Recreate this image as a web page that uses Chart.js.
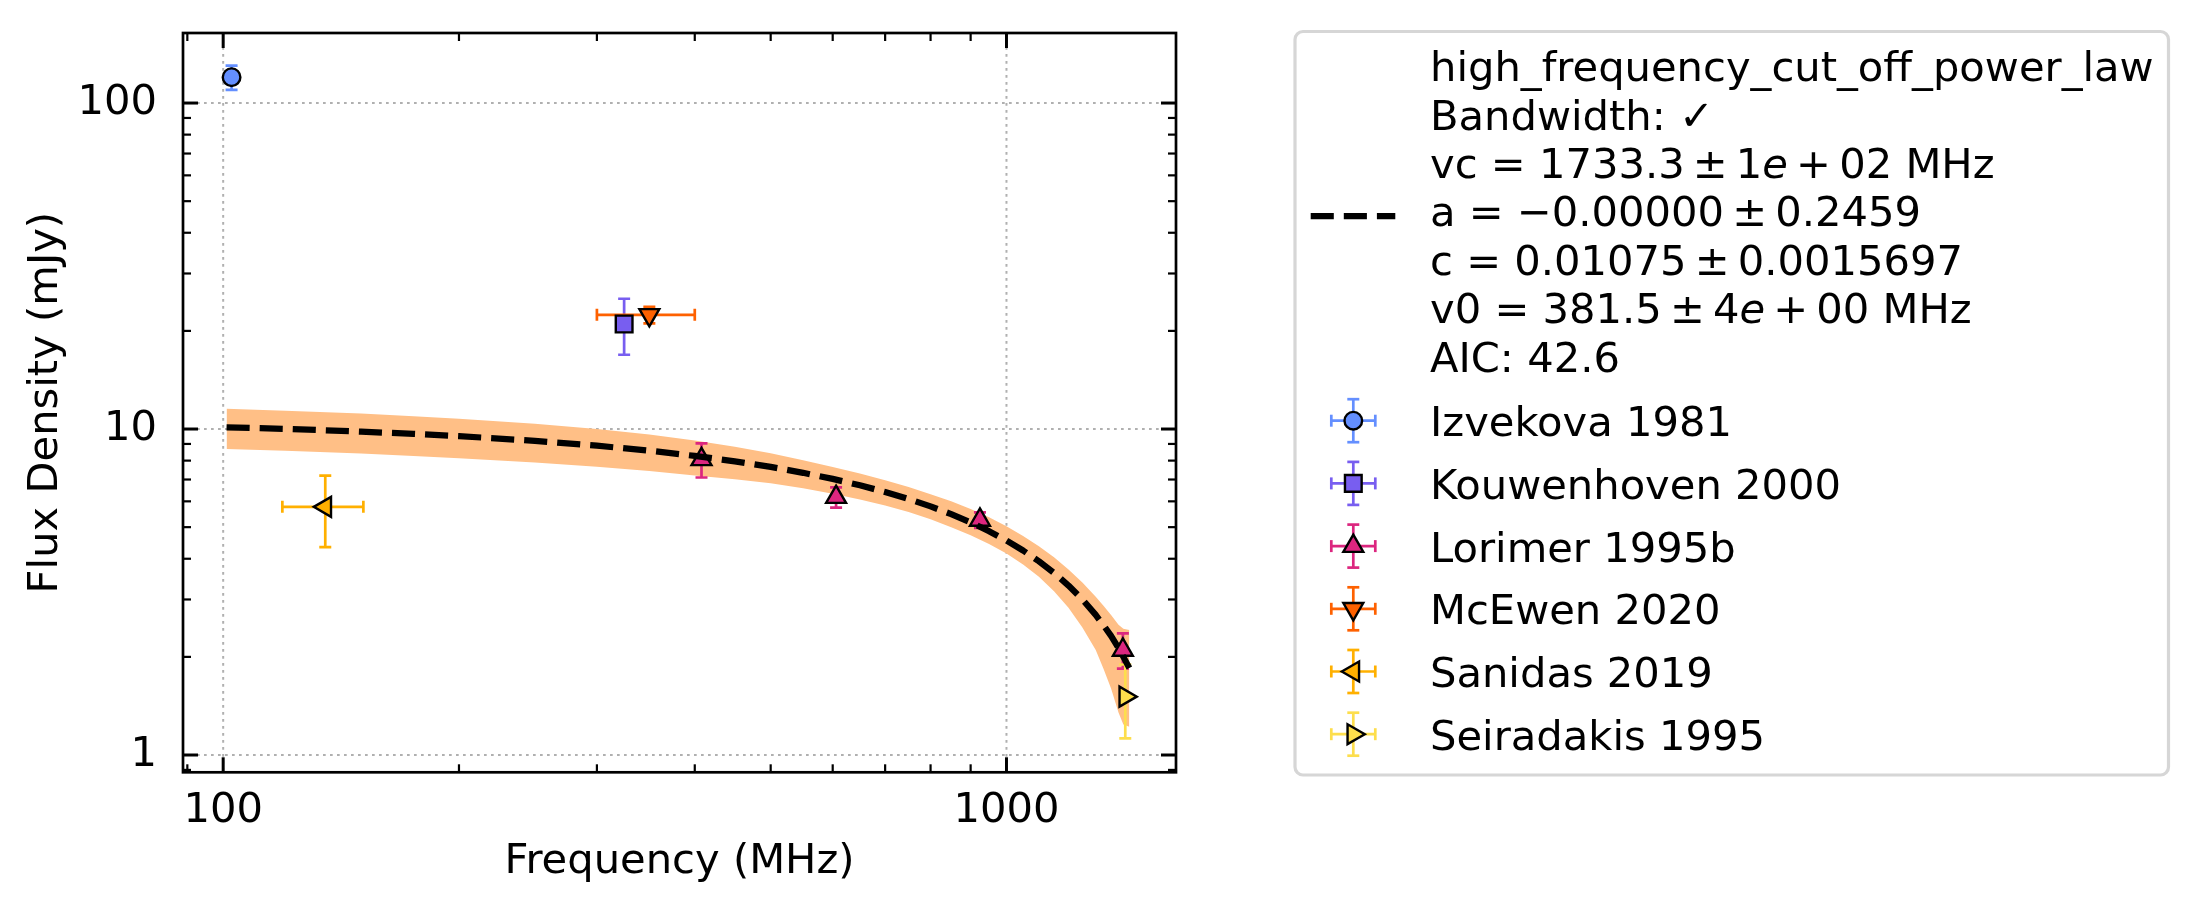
<!DOCTYPE html>
<html>
<head>
<meta charset="utf-8">
<script src="https://cdn.jsdelivr.net/npm/chart.js@4.4.1/dist/chart.umd.min.js"></script>
<style>
html,body{margin:0;padding:0;background:#ffffff;}
canvas{display:block;}
</style>
</head>
<body>
<canvas id="c" width="2198" height="917"></canvas>
<script>
// ---------------- DATA ----------------
const seriesNames = ['Izvekova 1981', 'Kouwenhoven 2000', 'Lorimer 1995b', 'McEwen 2020', 'Sanidas 2019', 'Seiradakis 1995'];

const izvekovaFreq = [102.5];
const izvekovaFlux = [120];
const izvekovaFreqErr = [0];
const izvekovaFluxErr = [10.3];

const kouwenhovenFreq = [325];
const kouwenhovenFlux = [21.0];
const kouwenhovenFreqErr = [0];
const kouwenhovenFluxErr = [4.1];

const lorimerFreq = [408, 606, 925, 1408];
const lorimerFlux = [8.07, 6.18, 5.26, 2.10];
const lorimerFreqErr = [0, 0, 0, 0];
const lorimerFluxErr = [0.97, 0.44, 0.29, 0.26];

const mcewenFreq = [350];
const mcewenFlux = [22.4];
const mcewenFreqErr = [50];
const mcewenFluxErr = [1.3];

const sanidasFreq = [135];
const sanidasFlux = [5.77];
const sanidasFreqErr = [16];
const sanidasFluxErr = [1.43];

const seiradakisFreq = [1418];
const seiradakisFlux = [1.51];
const seiradakisFreqErr = [0];
const seiradakisFluxErr = [0.385];

// fitted model curve and its uncertainty band
const fitFreq  = [101, 120, 150, 175, 200, 250, 300, 350, 400, 450, 500, 550, 600, 650, 700, 750, 800, 850, 900, 950, 1000, 1050, 1100, 1150, 1200, 1250, 1300, 1330, 1360, 1390, 1410, 1435];
const fitFlux  = [10.12, 10.01, 9.82, 9.66, 9.51, 9.20, 8.89, 8.58, 8.27, 7.96, 7.65, 7.34, 7.03, 6.72, 6.41, 6.10, 5.79, 5.48, 5.17, 4.86, 4.55, 4.24, 3.93, 3.62, 3.31, 3.00, 2.69, 2.50, 2.32, 2.13, 2.00, 1.85];
const fitUpper = [11.53, 11.38, 11.15, 10.94, 10.75, 10.38, 10.00, 9.62, 9.22, 8.82, 8.42, 8.02, 7.65, 7.30, 6.96, 6.64, 6.31, 6.00, 5.68, 5.36, 5.03, 4.70, 4.37, 4.04, 3.71, 3.38, 3.06, 2.87, 2.69, 2.51, 2.44, 2.42];
const fitLower = [8.69, 8.58, 8.41, 8.26, 8.13, 7.89, 7.66, 7.43, 7.20, 7.01, 6.82, 6.58, 6.33, 6.08, 5.83, 5.56, 5.29, 5.00, 4.72, 4.44, 4.15, 3.84, 3.52, 3.18, 2.83, 2.46, 2.10, 1.84, 1.60, 1.35, 1.24, 1.22];

const fitLegendLines = [
  'high_frequency_cut_off_power_law',
  'Bandwidth: \u2713',
  'vc = 1733.3|\u00b1|1$e$|+|02 MHz',
  'a = \u22120.00000|\u00b1|0.2459',
  'c = 0.01075|\u00b1|0.0015697',
  'v0 = 381.5|\u00b1|4$e$|+|00 MHz',
  'AIC: 42.6'
];

const xTickValues = [100, 1000];
const yTickValues = [1, 10, 100];
const xMinorTicks = [90, 200, 300, 400, 500, 600, 700, 800, 900];
const yMinorTicks = [0.9, 2, 3, 4, 5, 6, 7, 8, 9, 20, 30, 40, 50, 60, 70, 80, 90];

// ---------------- STYLE ----------------
const FONT = '"DejaVu Sans"';
const FS = 41.67;
const seriesColors = ['#648FFF', '#785EF0', '#DC267F', '#FE6100', '#FFB000', '#FDDE4C'];
const markerStyles = ['circle', 'rect', 'triangle', 'triangle', 'triangle', 'triangle'];
const markerRotations = [0, 0, 0, 180, 270, 90];
const markerRadii = [8.8, 11.8, 11.5, 11.5, 11.5, 11.5];
const MARKER_EDGE = 2.4;
const ERR_LW = 2.7, CAP = 6;

const seriesFreq = [izvekovaFreq, kouwenhovenFreq, lorimerFreq, mcewenFreq, sanidasFreq, seiradakisFreq];
const seriesFlux = [izvekovaFlux, kouwenhovenFlux, lorimerFlux, mcewenFlux, sanidasFlux, seiradakisFlux];
const seriesFreqErr = [izvekovaFreqErr, kouwenhovenFreqErr, lorimerFreqErr, mcewenFreqErr, sanidasFreqErr, seiradakisFreqErr];
const seriesFluxErr = [izvekovaFluxErr, kouwenhovenFluxErr, lorimerFluxErr, mcewenFluxErr, sanidasFluxErr, seiradakisFluxErr];

const CHART_TOP = 33, CHART_BOTTOM = 772.3, CHART_LEFT = 183, CHART_RIGHT = 1176;
const W = 2198, H = 917;

// ---------------- DATASETS ----------------
const toXY = (xs, ys) => xs.map((x, i) => ({x: x, y: ys[i]}));

const datasets = [
  {
    label: 'band upper', data: toXY(fitFreq, fitUpper), showLine: true, fill: '+1',
    backgroundColor: '#FFBF86', borderColor: 'rgba(0,0,0,0)', borderWidth: 1,
    pointRadius: 0, tension: 0, order: 10
  },
  {
    label: 'band lower', data: toXY(fitFreq, fitLower), showLine: true, fill: false,
    borderColor: 'rgba(0,0,0,0)', borderWidth: 1,
    pointRadius: 0, tension: 0, order: 10
  },
  {
    label: 'fit', data: toXY(fitFreq, fitFlux), showLine: true, fill: false,
    borderColor: '#000000', borderWidth: 6.25, borderDash: [23.1, 10], borderCapStyle: 'butt', borderJoinStyle: 'round',
    pointRadius: 0, tension: 0, order: 1
  }
];
seriesNames.forEach((name, i) => {
  datasets.push({
    label: name,
    data: toXY(seriesFreq[i], seriesFlux[i]),
    errX: seriesFreqErr[i], errY: seriesFluxErr[i], errColor: seriesColors[i],
    showLine: false,
    pointStyle: markerStyles[i], pointRotation: markerRotations[i], pointRadius: markerRadii[i],
    pointBackgroundColor: seriesColors[i], pointBorderColor: '#000000', pointBorderWidth: MARKER_EDGE,
    pointHoverRadius: markerRadii[i],
    order: 5
  });
});

// ---------------- HELPERS ----------------
function line(ctx, x1, y1, x2, y2) { ctx.beginPath(); ctx.moveTo(x1, y1); ctx.lineTo(x2, y2); ctx.stroke(); }

function drawMarker(ctx, style, rot, r, x, y, fill) {
  ctx.save();
  ctx.beginPath();
  if (style === 'circle') { ctx.arc(x, y, r, 0, Math.PI * 2); }
  else if (style === 'rect') { const s = r * Math.SQRT1_2; ctx.rect(x - s, y - s, 2 * s, 2 * s); }
  else {
    let a = rot * Math.PI / 180;
    for (let k = 0; k < 3; k++) {
      const px = x + Math.sin(a) * r, py = y - Math.cos(a) * r;
      if (k) ctx.lineTo(px, py); else ctx.moveTo(px, py);
      a += 2 * Math.PI / 3;
    }
    ctx.closePath();
  }
  ctx.fillStyle = fill; ctx.fill();
  ctx.lineWidth = MARKER_EDGE; ctx.strokeStyle = '#000'; ctx.stroke();
  ctx.restore();
}

function drawErrCross(ctx, color, cx, cy, x1, x2, y1, y2) {
  ctx.save();
  ctx.strokeStyle = color; ctx.lineWidth = ERR_LW; ctx.lineCap = 'butt';
  if (y1 !== y2) { line(ctx, cx, y1, cx, y2); line(ctx, cx - CAP, y1, cx + CAP, y1); line(ctx, cx - CAP, y2, cx + CAP, y2); }
  if (x1 !== x2) { line(ctx, x1, cy, x2, cy); line(ctx, x1, cy - CAP, x1, cy + CAP); line(ctx, x2, cy - CAP, x2, cy + CAP); }
  ctx.restore();
}

function drawRich(ctx, text, x, y) {
  const parts = text.split(/(\||\$[^$]*\$)/).filter(p => p !== '');
  let cx = x;
  for (const p of parts) {
    if (p === '|') { cx += 0.195 * FS; continue; }
    let t = p, italic = false;
    if (p[0] === '$') { t = p.slice(1, -1); italic = true; }
    ctx.font = (italic ? 'italic ' : '') + FS + 'px ' + FONT;
    ctx.fillText(t, cx, y);
    cx += ctx.measureText(t).width;
  }
}

// ---------------- PLUGINS ----------------
let errDrawn = false;
const decor = {
  id: 'decor',
  beforeDraw() { errDrawn = false; },
  beforeDatasetsDraw(chart) {
    const {ctx, chartArea: a, scales: {x, y}} = chart;
    ctx.save();
    ctx.strokeStyle = '#b0b0b0'; ctx.lineWidth = 2; ctx.setLineDash([2.7, 4.3]);
    xTickValues.forEach(v => { const px = x.getPixelForValue(v); line(ctx, px, a.top, px, a.bottom); });
    yTickValues.forEach(v => { const py = y.getPixelForValue(v); line(ctx, a.left, py, a.right, py); });
    ctx.restore();
  },
  beforeDatasetDraw(chart, args) {
    const ds = chart.data.datasets[args.index];
    if (!ds.errX || errDrawn) return;
    errDrawn = true;
    const {ctx, scales: {x, y}} = chart;
    ctx.save();
    ctx.beginPath(); ctx.rect(chart.chartArea.left, chart.chartArea.top, chart.chartArea.right - chart.chartArea.left, chart.chartArea.bottom - chart.chartArea.top); ctx.clip();
    chart.data.datasets.forEach(d => {
      if (!d.errX) return;
      d.data.forEach((p, i) => {
        const cx = x.getPixelForValue(p.x), cy = y.getPixelForValue(p.y);
        const ex = d.errX[i], ey = d.errY[i];
        const x1 = ex > 0 ? x.getPixelForValue(p.x - ex) : cx, x2 = ex > 0 ? x.getPixelForValue(p.x + ex) : cx;
        const y1 = ey > 0 ? y.getPixelForValue(p.y + ey) : cy, y2 = ey > 0 ? y.getPixelForValue(p.y - ey) : cy;
        drawErrCross(ctx, d.errColor, cx, cy, x1, x2, y1, y2);
      });
    });
    ctx.restore();
  },
  afterDatasetsDraw(chart) {
    const {ctx, chartArea: a, scales: {x, y}} = chart;
    ctx.save();
    ctx.strokeStyle = '#000'; ctx.lineCap = 'butt';
    // major ticks
    ctx.lineWidth = 3;
    xTickValues.forEach(v => { const px = x.getPixelForValue(v); line(ctx, px, a.bottom, px, a.bottom - 15); line(ctx, px, a.top, px, a.top + 15); });
    yTickValues.forEach(v => { const py = y.getPixelForValue(v); line(ctx, a.left, py, a.left + 15, py); line(ctx, a.right, py, a.right - 15, py); });
    // minor ticks
    ctx.lineWidth = 2.2;
    xMinorTicks.forEach(v => { const px = x.getPixelForValue(v); line(ctx, px, a.bottom, px, a.bottom - 8); line(ctx, px, a.top, px, a.top + 8); });
    yMinorTicks.forEach(v => { const py = y.getPixelForValue(v); line(ctx, a.left, py, a.left + 8, py); line(ctx, a.right, py, a.right - 8, py); });
    // frame
    ctx.lineWidth = 2.7;
    ctx.strokeRect(a.left, a.top, a.right - a.left, a.bottom - a.top);
    ctx.restore();
  },
  afterDraw(chart) {
    const ctx = chart.ctx;
    ctx.save();
    // legend frame
    ctx.beginPath();
    ctx.roundRect(1295, 31.5, 873.5, 743.5, 8);
    ctx.fillStyle = '#ffffff'; ctx.fill();
    ctx.lineWidth = 3.2; ctx.strokeStyle = '#d6d6d6'; ctx.stroke();
    // fit entry
    ctx.strokeStyle = '#000'; ctx.lineWidth = 6.25; ctx.setLineDash([23.1, 10]); ctx.lineCap = 'butt';
    line(ctx, 1310.7, 216, 1395.3, 216);
    ctx.setLineDash([]);
    ctx.fillStyle = '#000'; ctx.textBaseline = 'alphabetic'; ctx.textAlign = 'left';
    fitLegendLines.forEach((t, k) => drawRich(ctx, t, 1430, 81.2 + 48.4 * k));
    // series entries
    seriesNames.forEach((name, i) => {
      const cy = 420.7 + 62.7 * i, cx = 1353.3;
      drawErrCross(ctx, seriesColors[i], cx, cy, cx - 22, cx + 22, cy - 21.5, cy + 21.5);
      drawMarker(ctx, markerStyles[i], markerRotations[i], markerRadii[i], cx, cy, seriesColors[i]);
      ctx.fillStyle = '#000';
      ctx.font = FS + 'px ' + FONT;
      ctx.fillText(name, 1430, cy + 15.6);
    });
    ctx.restore();
  }
};

// ---------------- CHART ----------------
new Chart(document.getElementById('c'), {
  type: 'scatter',
  data: { datasets: datasets },
  options: {
    responsive: false,
    animation: false,
    events: [],
    layout: { padding: { left: 0, top: CHART_TOP, right: W - CHART_RIGHT, bottom: 0 } },
    plugins: { legend: { display: false }, tooltip: { enabled: false } },
    scales: {
      x: {
        type: 'logarithmic', position: 'bottom', min: 88.86, max: 1646,
        grid: { display: false }, border: { display: false },
        ticks: {
          color: '#000', font: { family: 'DejaVu Sans', size: FS }, padding: 5.7,
          maxRotation: 0, minRotation: 0, autoSkip: false,
          callback: v => String(v)
        },
        afterBuildTicks: s => { s.ticks = xTickValues.map(v => ({ value: v })); },
        afterFit: s => { s.height = H - CHART_BOTTOM; s.paddingLeft = 0; s.paddingRight = 0; },
        title: { display: true, text: 'Frequency (MHz)', color: '#000', font: { family: 'DejaVu Sans', size: FS }, padding: { top: 0, bottom: 29.5 } }
      },
      y: {
        type: 'logarithmic', position: 'left', min: 0.885, max: 164,
        grid: { display: false }, border: { display: false },
        ticks: {
          color: '#000', font: { family: 'DejaVu Sans', size: FS }, padding: 18,
          autoSkip: false,
          callback: v => String(v)
        },
        afterBuildTicks: s => { s.ticks = yTickValues.map(v => ({ value: v })); },
        afterFit: s => { s.width = CHART_LEFT; s.paddingTop = 0; s.paddingBottom = 0; },
        title: { display: true, text: 'Flux Density (mJy)', color: '#000', font: { family: 'DejaVu Sans', size: FS }, padding: { top: 21, bottom: 0 } }
      }
    }
  },
  plugins: [decor]
});
</script>
</body>
</html>
